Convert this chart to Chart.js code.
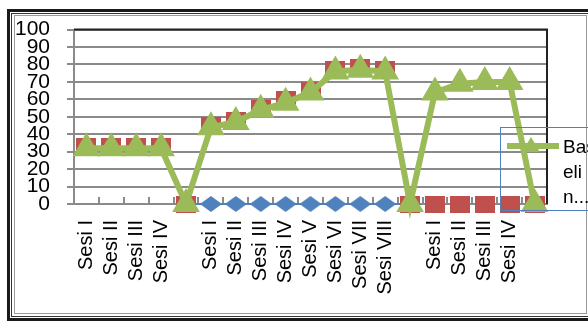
<!DOCTYPE html>
<html>
<head>
<meta charset="utf-8">
<script src="https://cdn.jsdelivr.net/npm/chart.js@4/dist/chart.umd.min.js"></script>
<style>
  html, body { margin: 0; padding: 0; background: #fff; }
  body { width: 588px; height: 323px; overflow: hidden; position: relative; font-family: "Liberation Sans", Arial, sans-serif; }
  #chart { position: absolute; left: 0; top: 0; }
  .frame { position: absolute; box-sizing: border-box; pointer-events: none; }
  #f1 { left: 7px; top: 9px; width: 600px; height: 312px; border: 3px solid #1a1a1a; }
  #f2 { left: 11px; top: 13px; width: 600px; height: 304px; border: 1px solid #333; }
  #f3 { left: 14px; top: 15px; width: 573px; height: 299px; border: 1px solid #9a9a9a; }
  #legend { position: absolute; left: 500px; top: 127px; width: 110px; height: 84px; box-sizing: border-box;
            border: 1.5px solid #4F81BD; }
  #legend .line { position: absolute; left: 6px; top: 15px; width: 52px; height: 6px; background: #9BBB59; }
  #legend .tri { position: absolute; left: 21px; top: 9px; width: 0; height: 0;
                 border-left: 9px solid transparent; border-right: 9px solid transparent; border-bottom: 15px solid #9BBB59; }
  #legend .txt { position: absolute; left: 62px; top: 6px; font-size: 19px; line-height: 25px; color: #000; }
</style>
</head>
<body>
<canvas id="chart" width="588" height="323"></canvas>
<div class="frame" id="f1"></div>
<div class="frame" id="f2"></div>
<div class="frame" id="f3"></div>
<div id="legend">
  <div class="line"></div><div class="tri"></div>
  <div class="txt">Bas<br>eli<br>n...</div>
</div>
<script>
// categories (blank entries are the gaps between phases)
const labels = ['Sesi I', 'Sesi II', 'Sesi III', 'Sesi IV', '',
  'Sesi I', 'Sesi II', 'Sesi III', 'Sesi IV', 'Sesi V', 'Sesi VI', 'Sesi VII', 'Sesi VIII', '',
  'Sesi I', 'Sesi II', 'Sesi III', 'Sesi IV', ''];

const baseline = [32, 32, 32, 32, 0, 44, 47, 54, 58, 64, 76, 77, 76, 0, 64, 69, 70, 70, 0];
const redSeries = [33, 33, 33, 33, 0, 45, 48, 55, 60, 65, 77, 78, 77, 0, 0, 0, 0, 0, 0];
const blueSeries = [null, null, null, null, 0, 0, 0, 0, 0, 0, 0, 0, 0, 0, null, null, null, null, null];

const yTicks = [0, 10, 20, 30, 40, 50, 60, 70, 80, 90, 100];

const green = '#9BBB59';
const red = '#C0504D';
const blue = '#4F81BD';
const gridGray = '#8a8a8a';

// marker images (slightly wider than tall, like the original)
function makeMarker(w, h, color, diamond) {
  const c = document.createElement('canvas');
  c.width = w; c.height = h;
  const g = c.getContext('2d');
  g.fillStyle = color;
  if (diamond) {
    g.beginPath();
    g.moveTo(0, h / 2); g.lineTo(w / 2, 0); g.lineTo(w, h / 2); g.lineTo(w / 2, h);
    g.closePath(); g.fill();
  } else {
    g.fillRect(0, 0, w, h);
  }
  return c;
}
const redSquare = makeMarker(20, 17, red, false);
const blueDiamond = makeMarker(22, 16, blue, true);

// tick marks pointing up into the plot + dark top/right border
const plotDecor = {
  id: 'plotDecor',
  beforeDatasetsDraw(chart) {
    const { ctx, chartArea, scales } = chart;
    const x = scales.x;
    const half = (x.getPixelForValue(1) - x.getPixelForValue(0)) / 2;
    ctx.save();
    ctx.strokeStyle = gridGray;
    ctx.lineWidth = 2;
    for (let i = 1; i < labels.length; i++) {
      const px = Math.round(x.getPixelForValue(i) - half);
      ctx.beginPath();
      ctx.moveTo(px, chartArea.bottom - 7);
      ctx.lineTo(px, chartArea.bottom);
      ctx.stroke();
    }
    ctx.strokeStyle = '#222';
    ctx.beginPath();
    ctx.moveTo(chartArea.left, chartArea.top);
    ctx.lineTo(chartArea.right, chartArea.top);
    ctx.lineTo(chartArea.right, chartArea.bottom);
    ctx.stroke();
    ctx.restore();
  }
};

new Chart(document.getElementById('chart'), {
  type: 'line',
  data: {
    labels: labels,
    datasets: [
      {
        label: 'Baseline',
        data: baseline,
        borderColor: green,
        backgroundColor: green,
        borderWidth: 6,
        pointStyle: 'triangle',
        pointRadius: 10,
        pointBorderColor: green,
        pointBackgroundColor: green,
        tension: 0,
        clip: false,
        order: 0
      },
      {
        label: 'Seri 2',
        data: redSeries,
        borderColor: red,
        backgroundColor: red,
        showLine: false,
        pointStyle: redSquare,
        pointRadius: 10,
        clip: false,
        order: 1
      },
      {
        label: 'Seri 3',
        data: blueSeries,
        borderColor: blue,
        backgroundColor: blue,
        borderWidth: 2,
        pointStyle: blueDiamond,
        pointRadius: 10,
        spanGaps: false,
        clip: false,
        order: 2
      }
    ]
  },
  options: {
    responsive: false,
    animation: false,
    layout: { padding: { left: 14, top: 29, right: 41, bottom: 0 } },
    plugins: { legend: { display: false }, tooltip: { enabled: false } },
    scales: {
      x: {
        offset: true,
        grid: { display: false, drawTicks: false },
        border: { display: true, color: gridGray, width: 2 },
        ticks: {
          autoSkip: false,
          minRotation: 90,
          maxRotation: 90,
          padding: 16,
          color: '#000',
          font: { family: 'Liberation Sans', size: 20 }
        },
        afterFit(scale) { scale.height = 119; }
      },
      y: {
        min: 0,
        max: 100,
        afterBuildTicks(scale) { scale.ticks = yTicks.map(v => ({ value: v })); },
        grid: { color: gridGray, lineWidth: 2, tickLength: 7, drawTicks: true },
        border: { display: true, color: gridGray, width: 2 },
        ticks: {
          autoSkip: false,
          padding: 17,
          color: '#000',
          font: { family: 'Liberation Sans', size: 21 }
        },
        afterFit(scale) { scale.width = 60; }
      }
    }
  },
  plugins: [plotDecor]
});
</script>
</body>
</html>
